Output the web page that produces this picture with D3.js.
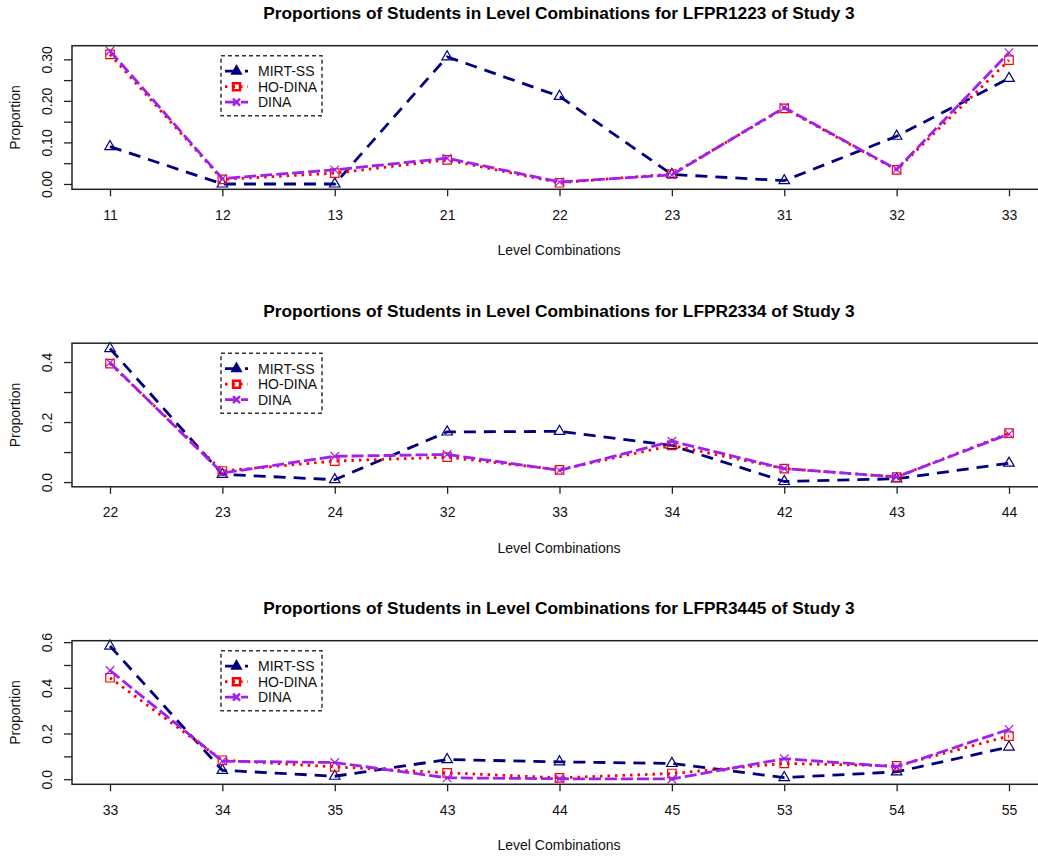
<!DOCTYPE html>
<html>
<head>
<meta charset="utf-8">
<script src="https://cdn.jsdelivr.net/npm/d3@7"></script>
<style>
  body { margin: 0; background: #fff; }
  text { font-family: "Liberation Sans", Arial, sans-serif; }
</style>
</head>
<body>
<svg id="chart" width="1038" height="856"></svg>
<script>
// values
const combos1 = ['11', '12', '13', '21', '22', '23', '31', '32', '33'];
const mirt1 = [0.090, 0.000, 0.000, 0.306, 0.211, 0.023, 0.008, 0.115, 0.254];
const hodina1 = [0.312, 0.011, 0.026, 0.058, 0.003, 0.024, 0.182, 0.034, 0.298];
const dina1 = [0.320, 0.013, 0.034, 0.062, 0.005, 0.022, 0.184, 0.035, 0.316];
const yTicks1 = [0, 0.05, 0.10, 0.15, 0.20, 0.25, 0.30];
const yLabels1 = ['0.00', '', '0.10', '', '0.20', '', '0.30'];

const combos2 = ['22', '23', '24', '32', '33', '34', '42', '43', '44'];
const mirt2 = [0.445, 0.026, 0.008, 0.167, 0.169, 0.122, 0.002, 0.011, 0.063];
const hodina2 = [0.395, 0.037, 0.070, 0.083, 0.041, 0.122, 0.045, 0.017, 0.163];
const dina2 = [0.398, 0.030, 0.086, 0.092, 0.039, 0.136, 0.045, 0.017, 0.160];
const yTicks2 = [0, 0.1, 0.2, 0.3, 0.4];
const yLabels2 = ['0.0', '', '0.2', '', '0.4'];

const combos3 = ['33', '34', '35', '43', '44', '45', '53', '54', '55'];
const mirt3 = [0.583, 0.039, 0.013, 0.086, 0.076, 0.069, 0.007, 0.032, 0.141];
const hodina3 = [0.444, 0.083, 0.054, 0.028, 0.006, 0.025, 0.069, 0.058, 0.189];
const dina3 = [0.476, 0.079, 0.073, 0.006, 0.002, 0.001, 0.090, 0.054, 0.218];
const yTicks3 = [0, 0.1, 0.2, 0.3, 0.4, 0.5, 0.6];
const yLabels3 = ['0.0', '', '0.2', '', '0.4', '', '0.6'];

const studies = ['LFPR1223', 'LFPR2334', 'LFPR3445'];
const seriesNames = ['MIRT-SS', 'HO-DINA', 'DINA'];

const panels = [
  { study: studies[0], combos: combos1, values: [mirt1, hodina1, dina1], ticks: yTicks1, labels: yLabels1 },
  { study: studies[1], combos: combos2, values: [mirt2, hodina2, dina2], ticks: yTicks2, labels: yLabels2 },
  { study: studies[2], combos: combos3, values: [mirt3, hodina3, dina3], ticks: yTicks3, labels: yLabels3 }
];

// styles per series
const styles = [
  { color: '#000080', dash: '12,8', width: 2.8, symbol: 'triangle' },
  { color: '#ff0000', dash: '2.5,5', width: 2.8, symbol: 'square' },
  { color: '#a020f0', dash: '12,4', width: 2.8, symbol: 'cross' }
];

const panelTops = [45.7, 343.2, 640.7];
const plotH = 143.6;
const boxLeft = 72;
const boxRight = 1046;

const symbolPath = (kind, s) => {
  if (kind === 'triangle') {
    const h = s * Math.sqrt(3) / 2;
    return `M0,${-h * 2 / 3}L${s / 2},${h / 3}L${-s / 2},${h / 3}Z`;
  }
  if (kind === 'square') {
    return `M${-s / 2},${-s / 2}h${s}v${s}h${-s}Z`;
  }
  return `M${-s / 2},${-s / 2}L${s / 2},${s / 2}M${-s / 2},${s / 2}L${s / 2},${-s / 2}`;
};
const markerSize = { triangle: 10.5, square: 8.5, cross: 8.5 };

const svg = d3.select('#chart');

const x = d3.scaleLinear().domain([0, 8]).range([110, 1009]);

panels.forEach((p, pi) => {
  const top = panelTops[pi];
  const bottom = top + plotH;
  const g = svg.append('g');

  const all = p.values.flat();
  const [lo, hi] = d3.extent(all);
  const pad = (hi - lo) * 0.04;
  const y = d3.scaleLinear().domain([lo - pad, hi + pad]).range([bottom, top]);

  // title
  g.append('text')
    .attr('x', (boxLeft + boxRight) / 2)
    .attr('y', top - 26.4)
    .attr('text-anchor', 'middle')
    .attr('font-size', 17.3)
    .attr('font-weight', 'bold')
    .attr('fill', '#000')
    .text(`Proportions of Students in Level Combinations for ${p.study} of Study 3`);

  // x axis
  const xAxis = g.append('g')
    .attr('transform', `translate(0,${bottom})`)
    .call(d3.axisBottom(x)
      .tickValues(d3.range(p.combos.length))
      .tickFormat(i => p.combos[i])
      .tickSize(7)
      .tickSizeOuter(0));
  xAxis.select('.domain').remove();
  xAxis.selectAll('line').attr('stroke', '#222').attr('stroke-width', 1.3);
  xAxis.selectAll('text')
    .attr('y', 30.7)
    .attr('dy', 0)
    .attr('font-size', 14)
    .attr('fill', '#111')
    .attr('font-family', '"Liberation Sans", Arial, sans-serif');

  // y axis
  const yAxis = g.append('g')
    .attr('transform', `translate(${boxLeft},0)`)
    .call(d3.axisLeft(y)
      .tickValues(p.ticks)
      .tickFormat((d, i) => p.labels[i])
      .tickSize(8)
      .tickSizeOuter(0));
  yAxis.select('.domain').remove();
  yAxis.selectAll('line').attr('stroke', '#222').attr('stroke-width', 1.3);
  yAxis.selectAll('text')
    .attr('transform', 'rotate(-90)')
    .attr('x', 0)
    .attr('y', -20)
    .attr('dy', 0)
    .attr('text-anchor', 'middle')
    .attr('font-size', 14)
    .attr('fill', '#111')
    .attr('font-family', '"Liberation Sans", Arial, sans-serif');

  // axis titles
  g.append('text')
    .attr('x', (boxLeft + boxRight) / 2)
    .attr('y', top + 209.3)
    .attr('text-anchor', 'middle')
    .attr('font-size', 14)
    .attr('fill', '#111')
    .text('Level Combinations');

  g.append('text')
    .attr('transform', `translate(20,${(top + bottom) / 2}) rotate(-90)`)
    .attr('text-anchor', 'middle')
    .attr('font-size', 14)
    .attr('fill', '#111')
    .text('Proportion');

  // series
  const line = d3.line().x((d, i) => x(i)).y(d => y(d));
  p.values.forEach((vals, si) => {
    const st = styles[si];
    g.append('path')
      .datum(vals)
      .attr('d', line)
      .attr('fill', 'none')
      .attr('stroke', st.color)
      .attr('stroke-width', st.width)
      .attr('stroke-dasharray', st.dash);

    g.selectAll(null)
      .data(vals)
      .enter()
      .append('path')
      .attr('transform', (d, i) => `translate(${x(i)},${y(d)})`)
      .attr('d', symbolPath(st.symbol, markerSize[st.symbol]))
      .attr('fill', 'none')
      .attr('stroke', st.color)
      .attr('stroke-width', 1.2);
  });

  // plot box
  g.append('rect')
    .attr('x', boxLeft)
    .attr('y', top)
    .attr('width', boxRight - boxLeft)
    .attr('height', plotH)
    .attr('fill', 'none')
    .attr('stroke', '#222')
    .attr('stroke-width', 1.5);

  // legend
  const lg = g.append('g').attr('transform', `translate(221,${top + 10})`);
  lg.append('rect')
    .attr('width', 101)
    .attr('height', 60)
    .attr('fill', '#fff')
    .attr('stroke', '#333')
    .attr('stroke-width', 1.5)
    .attr('stroke-dasharray', '4,3');

  const rowY = [15.5, 31, 46.5];
  seriesNames.forEach((name, si) => {
    const st = styles[si];
    const row = lg.append('g').attr('transform', `translate(0,${rowY[si]})`);
    row.append('line')
      .attr('x1', 4).attr('x2', 27)
      .attr('stroke', st.color)
      .attr('stroke-width', st.width)
      .attr('stroke-dasharray', st.dash);
    row.append('path')
      .attr('transform', 'translate(15.5,0)')
      .attr('d', symbolPath(st.symbol, st.symbol === 'triangle' ? 8 : 7))
      .attr('fill', st.symbol === 'triangle' ? st.color : 'none')
      .attr('stroke', st.color)
      .attr('stroke-width', 2.5);
    row.append('text')
      .attr('x', 37)
      .attr('dy', '0.35em')
      .attr('font-size', 14)
      .attr('fill', '#111')
      .text(name);
  });
});
</script>
</body>
</html>
